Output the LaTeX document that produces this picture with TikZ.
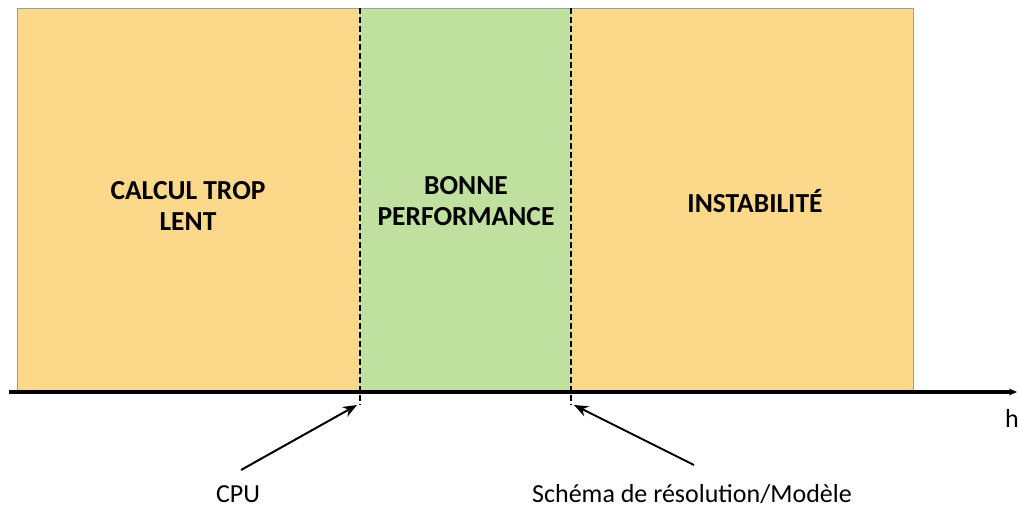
\documentclass[tikz,border=0pt]{standalone}
\usepackage{fontspec}
\setmainfont{Carlito}
\usetikzlibrary{arrows.meta}
\definecolor{orangefill}{RGB}{252,216,138}
\definecolor{greenfill}{RGB}{192,224,160}
\definecolor{bordergray}{RGB}{150,160,170}
\tikzset{
  region/.style={anchor=north west, inner sep=0pt, outer sep=0pt, minimum height=384pt},
  bigtext/.style={font=\fontsize{27.5}{31}\selectfont\bfseries, align=center},
  smalltext/.style={font=\fontsize{26}{30}\selectfont},
  sep/.style={black, line width=1.8pt, dash pattern=on 6pt off 3pt},
  axisline/.style={line width=3.5pt, -{Stealth[length=8pt,width=7pt]}},
  pointer/.style={line width=2pt, -{Stealth[length=14pt,width=11pt]}}
}
\begin{document}
\begin{tikzpicture}[x=1pt,y=-1pt]
\useasboundingbox (0,0) rectangle (1019,508);
\node[region, fill=orangefill, minimum width=343pt] (slow) at (17,8) {};
\node[region, fill=greenfill, minimum width=211pt] (good) at (360,8) {};
\node[region, fill=orangefill, minimum width=342pt] (unstable) at (571,8) {};
\draw[bordergray, line width=0.8pt] (slow.north west) rectangle (unstable.south east);
\coordinate (d1) at (360,405);
\coordinate (d2) at (571,405);
\draw[sep] (slow.north east) -- (d1);
\draw[sep] (good.north east) -- (d2);
\coordinate (a0) at (9,392);
\coordinate (a1) at (1017,392);
\draw[axisline] (a0) -- (a1);
\node[smalltext, anchor=base] (h) at (1012,427) {h};
\node[bigtext] (t1) at (188,206) {CALCUL TROP\\LENT};
\node[bigtext] (t2) at (466,201) {BONNE\\PERFORMANCE};
\node[bigtext] (t3) at (755,201) {INSTABILITÉ};
\node[smalltext, anchor=base] (cpu) at (238,502) {CPU};
\node[smalltext, anchor=base] (schema) at (692,502) {Schéma de résolution/Modèle};
\coordinate (p1) at (241,470);
\coordinate (q1) at (357,405);
\coordinate (p2) at (694,465);
\coordinate (q2) at (574,405);
\draw[pointer] (p1) -- (q1);
\draw[pointer] (p2) -- (q2);
\end{tikzpicture}
\end{document}
